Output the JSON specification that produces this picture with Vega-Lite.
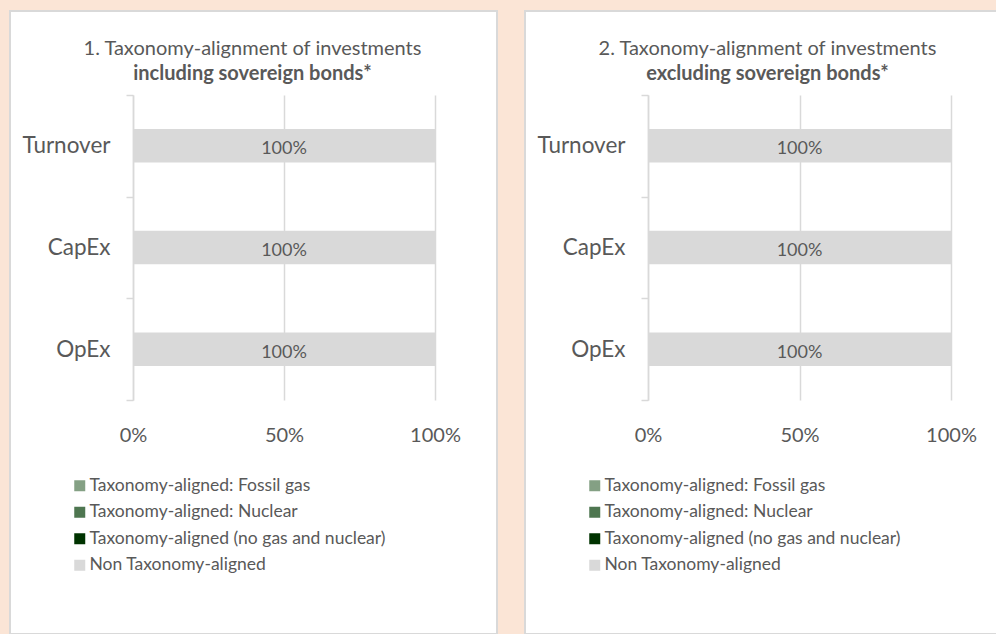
{
  "$schema": "https://vega.github.io/schema/vega-lite/v6.json",
  "background": "#FBE5D6",
  "padding": {"left": 9, "top": -1, "right": 0, "bottom": 0},
  "autosize": {"type": "pad"},
  "datasets": {
    "incl": [
      {"metric": "Turnover", "type": "Taxonomy-aligned: Fossil gas", "share": 0},
      {"metric": "Turnover", "type": "Taxonomy-aligned: Nuclear", "share": 0},
      {"metric": "Turnover", "type": "Taxonomy-aligned (no gas and nuclear)", "share": 0},
      {"metric": "Turnover", "type": "Non Taxonomy-aligned", "share": 1},
      {"metric": "CapEx", "type": "Taxonomy-aligned: Fossil gas", "share": 0},
      {"metric": "CapEx", "type": "Taxonomy-aligned: Nuclear", "share": 0},
      {"metric": "CapEx", "type": "Taxonomy-aligned (no gas and nuclear)", "share": 0},
      {"metric": "CapEx", "type": "Non Taxonomy-aligned", "share": 1},
      {"metric": "OpEx", "type": "Taxonomy-aligned: Fossil gas", "share": 0},
      {"metric": "OpEx", "type": "Taxonomy-aligned: Nuclear", "share": 0},
      {"metric": "OpEx", "type": "Taxonomy-aligned (no gas and nuclear)", "share": 0},
      {"metric": "OpEx", "type": "Non Taxonomy-aligned", "share": 1}
    ],
    "excl": [
      {"metric": "Turnover", "type": "Taxonomy-aligned: Fossil gas", "share": 0},
      {"metric": "Turnover", "type": "Taxonomy-aligned: Nuclear", "share": 0},
      {"metric": "Turnover", "type": "Taxonomy-aligned (no gas and nuclear)", "share": 0},
      {"metric": "Turnover", "type": "Non Taxonomy-aligned", "share": 1},
      {"metric": "CapEx", "type": "Taxonomy-aligned: Fossil gas", "share": 0},
      {"metric": "CapEx", "type": "Taxonomy-aligned: Nuclear", "share": 0},
      {"metric": "CapEx", "type": "Taxonomy-aligned (no gas and nuclear)", "share": 0},
      {"metric": "CapEx", "type": "Non Taxonomy-aligned", "share": 1},
      {"metric": "OpEx", "type": "Taxonomy-aligned: Fossil gas", "share": 0},
      {"metric": "OpEx", "type": "Taxonomy-aligned: Nuclear", "share": 0},
      {"metric": "OpEx", "type": "Taxonomy-aligned (no gas and nuclear)", "share": 0},
      {"metric": "OpEx", "type": "Non Taxonomy-aligned", "share": 1}
    ]
  },
  "spacing": 26,
  "resolve": {"scale": {"color": "independent"}, "legend": {"color": "independent"}},
  "hconcat": [
    {
      "width": 487,
      "height": 623,
      "data": {"name": "incl"},
      "title": {"text": "1. Taxonomy-alignment of investments", "subtitle": "including sovereign bonds*", "dx": -1},
      "encoding": {
        "y": {
          "field": "metric", "type": "nominal", "sort": ["Turnover", "CapEx", "OpEx"],
          "scale": {"range": [84, 389], "paddingInner": 0, "paddingOuter": 0},
          "axis": {"title": null, "offset": -123, "domainColor": "#D9D9D9", "domainWidth": 1.5, "tickColor": "#D9D9D9", "tickWidth": 1.5, "tickSize": 7, "tickBand": "extent", "labelFontSize": 22.5, "labelColor": "#595959", "labelPadding": 16, "grid": false}
        }
      },
      "layer": [
        {
          "mark": {"type": "bar", "height": {"band": 0.33}},
          "encoding": {
            "x": {
              "field": "share", "type": "quantitative", "stack": "zero",
              "scale": {"domain": [0, 1], "range": [123, 425], "nice": false},
              "axis": {"title": null, "orient": "top", "offset": -389, "values": [0, 0.5, 1], "format": ".0%", "domain": false, "ticks": false, "tickSize": 0, "labelPadding": -35, "labelBaseline": "middle", "labelFontSize": 20, "labelColor": "#595959", "labelFlush": false, "grid": true, "gridColor": "#D9D9D9", "gridWidth": 1.5}
            },
            "color": {
              "field": "type", "type": "nominal",
              "scale": {"domain": ["Taxonomy-aligned: Fossil gas", "Taxonomy-aligned: Nuclear", "Taxonomy-aligned (no gas and nuclear)", "Non Taxonomy-aligned"], "range": ["#84A084", "#4E7650", "#003300", "#D9D9D9"]},
              "legend": {"title": null, "orient": "none", "legendX": 61, "legendY": 466}
            }
          }
        },
        {
          "transform": [{"filter": "datum.share > 0"}],
          "mark": {"type": "text", "fontSize": 18, "color": "#595959", "baseline": "middle", "dy": 3.5},
          "encoding": {
            "x": {"field": "share", "type": "quantitative", "stack": "zero", "bandPosition": 0.5},
            "detail": {"field": "type"},
            "text": {"field": "share", "type": "quantitative", "format": ".0%"}
          }
        }
      ]
    },
    {
      "width": 473,
      "height": 623,
      "data": {"name": "excl"},
      "title": {"text": "2. Taxonomy-alignment of investments", "subtitle": "excluding sovereign bonds*", "dx": 6},
      "encoding": {
        "y": {
          "field": "metric", "type": "nominal", "sort": ["Turnover", "CapEx", "OpEx"],
          "scale": {"range": [84, 389], "paddingInner": 0, "paddingOuter": 0},
          "axis": {"title": null, "offset": -123, "domainColor": "#D9D9D9", "domainWidth": 1.5, "tickColor": "#D9D9D9", "tickWidth": 1.5, "tickSize": 7, "tickBand": "extent", "labelFontSize": 22.5, "labelColor": "#595959", "labelPadding": 16, "grid": false}
        }
      },
      "layer": [
        {
          "mark": {"type": "bar", "height": {"band": 0.33}},
          "encoding": {
            "x": {
              "field": "share", "type": "quantitative", "stack": "zero",
              "scale": {"domain": [0, 1], "range": [123, 426], "nice": false},
              "axis": {"title": null, "orient": "top", "offset": -389, "values": [0, 0.5, 1], "format": ".0%", "domain": false, "ticks": false, "tickSize": 0, "labelPadding": -35, "labelBaseline": "middle", "labelFontSize": 20, "labelColor": "#595959", "labelFlush": false, "grid": true, "gridColor": "#D9D9D9", "gridWidth": 1.5}
            },
            "color": {
              "field": "type", "type": "nominal",
              "scale": {"domain": ["Taxonomy-aligned: Fossil gas", "Taxonomy-aligned: Nuclear", "Taxonomy-aligned (no gas and nuclear)", "Non Taxonomy-aligned"], "range": ["#84A084", "#4E7650", "#003300", "#D9D9D9"]},
              "legend": {"title": null, "orient": "none", "legendX": 61, "legendY": 466}
            }
          }
        },
        {
          "transform": [{"filter": "datum.share > 0"}],
          "mark": {"type": "text", "fontSize": 18, "color": "#595959", "baseline": "middle", "dy": 3.5},
          "encoding": {
            "x": {"field": "share", "type": "quantitative", "stack": "zero", "bandPosition": 0.5},
            "detail": {"field": "type"},
            "text": {"field": "share", "type": "quantitative", "format": ".0%"}
          }
        }
      ]
    }
  ],
  "config": {
    "font": "Lato",
    "view": {"fill": "white", "stroke": "#D9D9D9", "strokeWidth": 2},
    "title": {"fontSize": 20, "fontWeight": "normal", "color": "#595959", "subtitleFontSize": 20, "subtitleFontWeight": "bold", "subtitleColor": "#595959", "subtitlePadding": 5, "anchor": "middle", "frame": "group", "offset": -84},
    "legend": {"symbolType": "square", "symbolSize": 121, "symbolStrokeWidth": 0, "labelFontSize": 17.5, "labelColor": "#595959", "labelOffset": 1, "rowPadding": 7.5, "padding": 0, "labelLimit": 400}
  }
}
